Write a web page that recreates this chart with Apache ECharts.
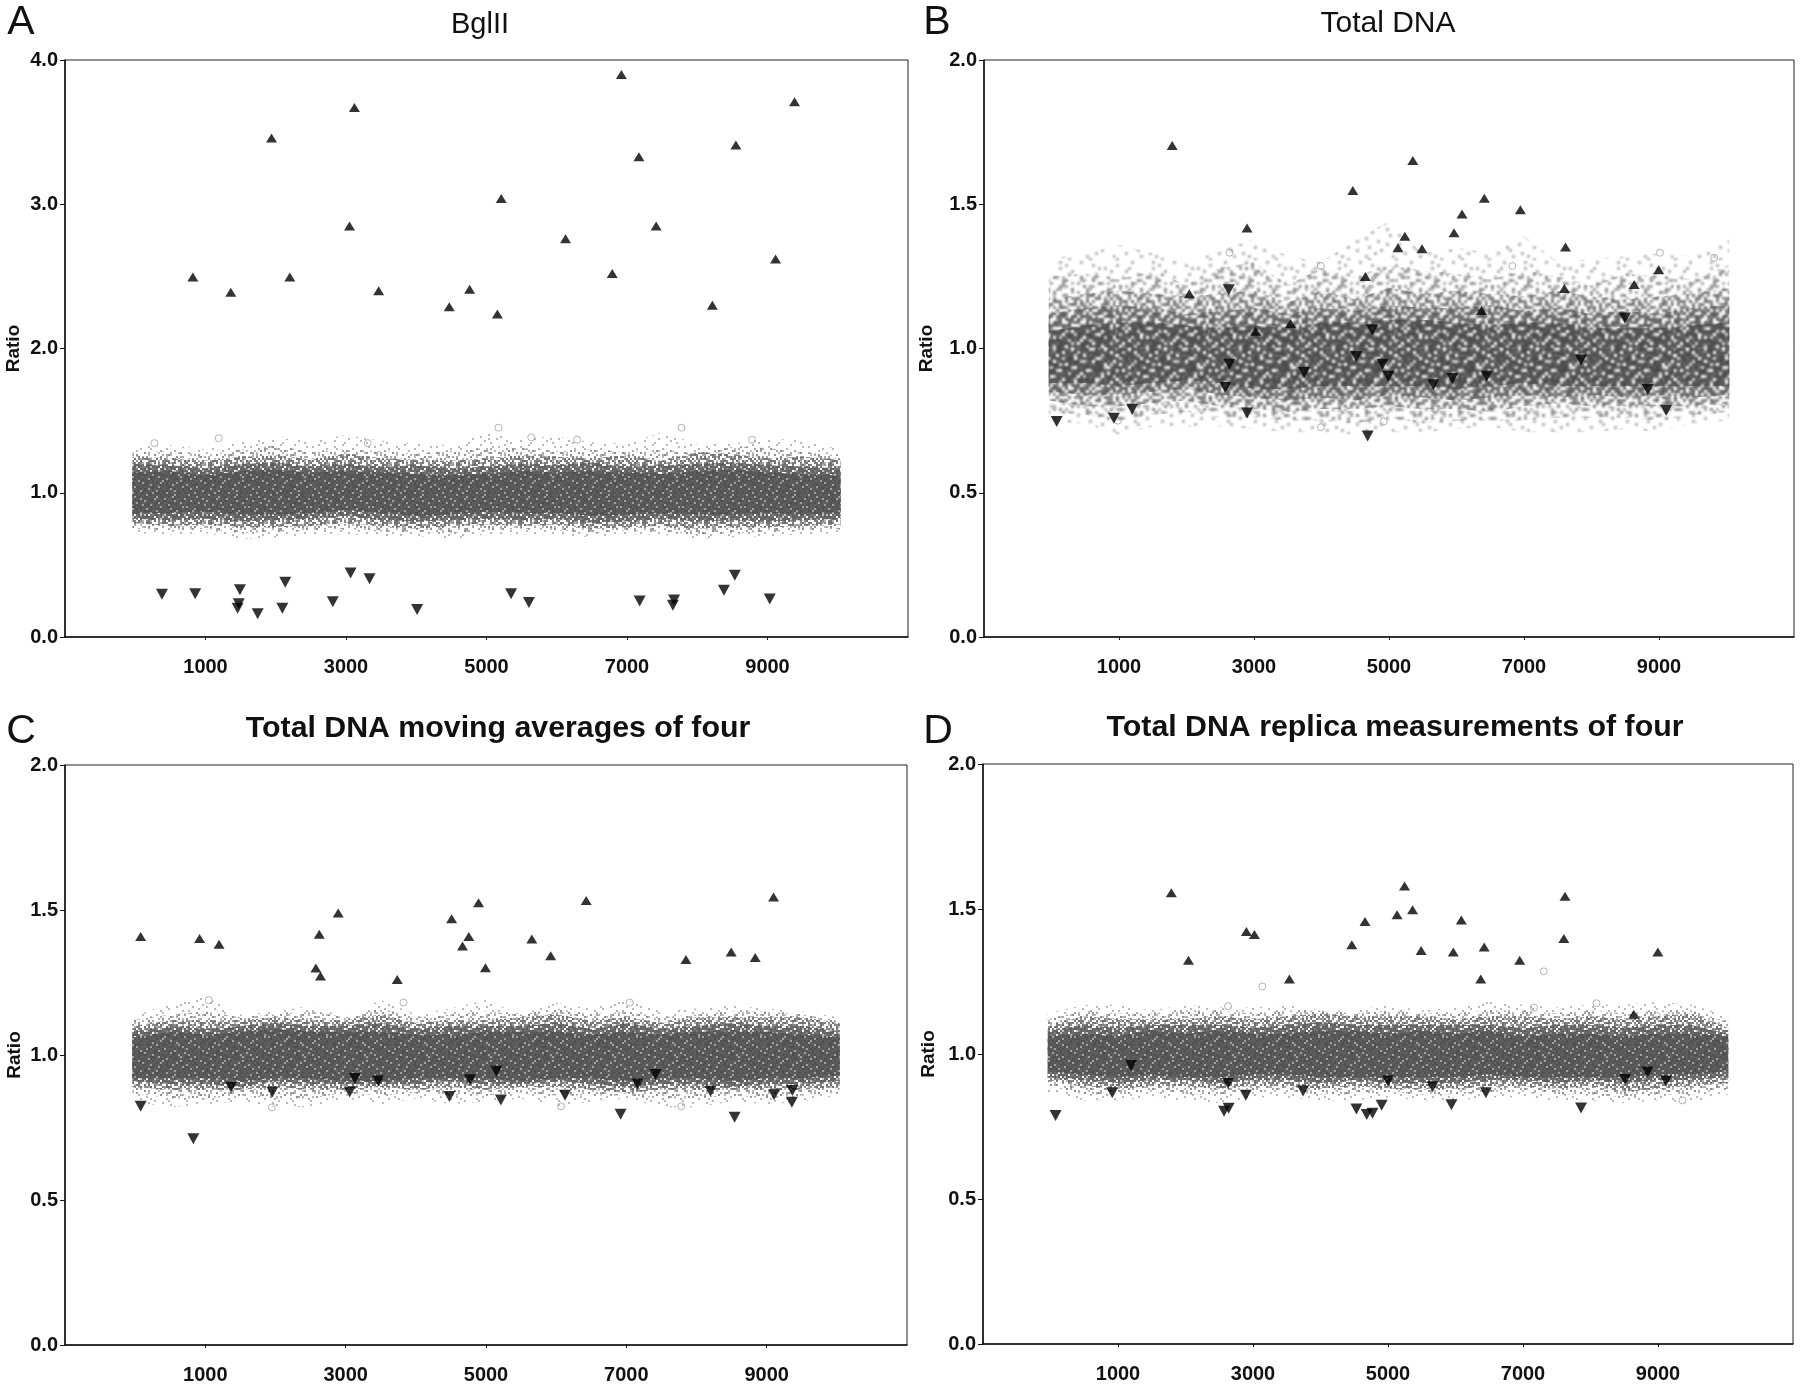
<!DOCTYPE html>
<html><head><meta charset="utf-8">
<style>html,body{margin:0;padding:0;background:#fff}#c{width:1800px;height:1386px}</style>
<script src="https://cdn.jsdelivr.net/npm/echarts@6/dist/echarts.min.js"></script>
</head><body><div id="c"></div>
<script>
const xTicks=[1000,3000,5000,7000,9000];
const stations=[-40,500,1000,1500,2000,2500,3000,3500,4000,4500,5000,5500,6000,6500,7000,7500,8000,8500,9000,9500,10040];

const aUpX=[820,1360,1940,2200,3050,3120,3465,4470,4760,5155,5210,6125,6790,6920,7170,7415,8215,8550,9115,9385];
const aUpY=[2.495,2.39,3.46,2.495,2.85,3.67,2.40,2.29,2.41,2.24,3.04,2.76,2.52,3.90,3.33,2.85,2.30,3.41,2.62,3.71];
const aDownX=[380,853,1490,1473,1457,1743,2094,2135,2812,3065,3335,4012,5350,5604,7180,7670,7653,8380,8535,9032];
const aDownY=[.297,.30,.328,.23,.20,.162,.20,.38,.245,.444,.404,.19,.30,.24,.25,.257,.22,.324,.428,.263];
const bUpX=[1788,2042,2897,3024,3541,4464,4650,5133,5235,5353,5489,5963,6082,6370,6412,6946,7598,7615,8632,8996];
const bUpY=[1.704,1.19,1.418,1.06,1.087,1.548,1.25,1.349,1.389,1.652,1.346,1.401,1.466,1.132,1.521,1.481,1.208,1.352,1.222,1.273];
const bDownX=[77,924,1195,2626,2635,2575,2897,3744,4515,4684,4752,4905,4989,5658,5938,6446,7843,8495,8834,9106];
const bDownY=[.747,.758,.789,1.204,.945,.865,.776,.917,.972,.697,1.064,.945,.904,.874,.896,.904,.96,1.106,.858,.786];
const cUpX=[78,918,1196,2575,2624,2641,2894,3735,4510,4665,4755,4894,4992,5653,5922,6428,7849,8494,8837,9098];
const cUpY=[1.409,1.402,1.382,1.30,1.416,1.272,1.49,1.26,1.47,1.376,1.409,1.525,1.301,1.40,1.342,1.533,1.329,1.355,1.336,1.545];
const cDownX=[78,829,1367,1955,3057,3131,3465,4478,4772,5147,5212,6126,6918,7163,7416,8200,8543,9106,9359,9367];
const cDownY=[.823,.711,.889,.872,.872,.919,.91,.857,.915,.944,.845,.861,.796,.90,.933,.875,.785,.863,.837,.878];
const dUpX=[1790,2044,2902,3021,3539,4464,4659,5134,5245,5364,5491,5967,6086,6374,6425,6951,7605,7622,8641,8998];
const dUpY=[1.556,1.323,1.422,1.412,1.259,1.377,1.457,1.48,1.579,1.497,1.357,1.352,1.462,1.259,1.369,1.323,1.398,1.544,1.137,1.352];
const dDownX=[75,915,1195,2571,2639,2630,2893,3742,4532,4685,4770,4906,5000,5660,5940,6450,7860,8514,8845,9118];
const dDownY=[.788,.866,.96,.803,.813,.898,.858,.872,.81,.791,.796,.823,.907,.887,.825,.866,.814,.912,.938,.907];

const aRingX=[5171,7775,1188,273,5637,6290,8780,3310];
const aRingY=[1.451,1.451,1.378,1.344,1.384,1.368,1.368,1.344];
const bRingX=[9817,9013,3990,6827,983,4922,5684,3990,2635];
const bRingY=[1.314,1.332,1.286,1.286,.750,.747,.789,.727,1.332];
const cRingX=[1049,7784,1947,6069,3824,7049];
const cRingY=[1.189,.823,.819,.823,1.181,1.181];
const dRingX=[3139,7308,7164,8089,8981,6646,9363,2630];
const dRingY=[1.233,1.285,1.16,1.175,1.131,.898,.84,1.165];

const aFringeHi=[1.32,1.33,1.30,1.36,1.38,1.36,1.40,1.36,1.34,1.33,1.43,1.38,1.39,1.35,1.34,1.42,1.34,1.34,1.38,1.36,1.30];
const aOuterHi=[1.28,1.29,1.26,1.30,1.33,1.28,1.30,1.29,1.27,1.29,1.31,1.31,1.29,1.30,1.28,1.30,1.27,1.32,1.31,1.28,1.26];
const aMidHi=[1.25,1.24,1.22,1.25,1.26,1.23,1.27,1.24,1.23,1.22,1.24,1.26,1.25,1.24,1.26,1.22,1.28,1.27,1.24,1.25,1.23];
const aInnerHi=[1.20,1.19,1.17,1.20,1.21,1.18,1.20,1.18,1.19,1.17,1.18,1.20,1.19,1.21,1.18,1.19,1.20,1.21,1.19,1.18,1.17];
const aCoreHi=[1.14,1.15,1.12,1.15,1.16,1.14,1.15,1.14,1.13,1.12,1.13,1.15,1.14,1.15,1.14,1.13,1.15,1.16,1.14,1.13,1.12];
const aCoreLo=[.86,.86,.87,.85,.85,.86,.88,.86,.84,.85,.87,.86,.86,.84,.85,.86,.85,.85,.86,.85,.86];
const aInnerLo=[.82,.81,.82,.80,.81,.82,.84,.81,.80,.81,.82,.81,.82,.79,.80,.82,.80,.81,.80,.81,.82];
const aMidLo=[.79,.77,.78,.76,.76,.77,.79,.77,.75,.77,.78,.77,.78,.75,.76,.77,.75,.76,.76,.77,.78];
const aOuterLo=[.75,.74,.75,.72,.73,.74,.75,.73,.73,.72,.74,.75,.74,.72,.74,.73,.71,.72,.73,.74,.75];
const aFringeLo=[.72,.71,.72,.68,.69,.71,.71,.70,.70,.68,.71,.71,.71,.69,.71,.71,.68,.69,.70,.71,.72];

const bFringeHi=[1.31,1.33,1.36,1.33,1.30,1.34,1.38,1.32,1.30,1.38,1.44,1.33,1.35,1.33,1.39,1.30,1.31,1.32,1.33,1.32,1.38];
const bOuterHi=[1.25,1.26,1.24,1.27,1.22,1.28,1.30,1.22,1.28,1.25,1.29,1.27,1.26,1.24,1.27,1.25,1.22,1.26,1.25,1.24,1.29];
const bMidHi=[1.17,1.19,1.20,1.19,1.18,1.19,1.20,1.16,1.20,1.17,1.21,1.19,1.20,1.19,1.18,1.20,1.18,1.17,1.18,1.19,1.21];
const bInnerHi=[1.12,1.14,1.15,1.14,1.12,1.13,1.14,1.12,1.14,1.13,1.15,1.14,1.14,1.15,1.13,1.14,1.12,1.13,1.12,1.14,1.15];
const bCoreHi=[1.06,1.08,1.09,1.09,1.08,1.07,1.08,1.07,1.09,1.09,1.10,1.10,1.09,1.08,1.09,1.09,1.07,1.07,1.07,1.08,1.09];
const bCoreLo=[.88,.88,.87,.88,.89,.88,.86,.86,.87,.87,.87,.87,.86,.87,.88,.87,.87,.87,.87,.87,.87];
const bInnerLo=[.85,.84,.84,.85,.86,.84,.83,.82,.83,.82,.84,.83,.82,.83,.84,.83,.84,.83,.84,.83,.84];
const bMidLo=[.82,.80,.80,.81,.82,.80,.79,.78,.79,.79,.80,.79,.79,.78,.80,.81,.80,.80,.80,.80,.81];
const bOuterLo=[.78,.77,.75,.77,.78,.76,.76,.75,.75,.74,.76,.74,.75,.75,.75,.76,.76,.76,.75,.77,.78];
const bFringeLo=[.74,.74,.70,.73,.73,.73,.72,.71,.71,.70,.71,.71,.72,.73,.71,.71,.71,.72,.71,.74,.75];

const cFringeHi=[1.13,1.18,1.20,1.14,1.15,1.17,1.13,1.19,1.14,1.16,1.19,1.14,1.18,1.16,1.19,1.15,1.16,1.17,1.16,1.15,1.13];
const cOuterHi=[1.12,1.14,1.15,1.13,1.14,1.15,1.13,1.16,1.13,1.14,1.15,1.14,1.16,1.14,1.15,1.13,1.14,1.15,1.15,1.14,1.12];
const cMidHi=[1.10,1.12,1.12,1.12,1.13,1.12,1.12,1.14,1.11,1.12,1.12,1.13,1.14,1.12,1.13,1.11,1.13,1.13,1.13,1.13,1.11];
const cInnerHi=[1.08,1.10,1.09,1.10,1.11,1.10,1.10,1.11,1.09,1.10,1.10,1.10,1.11,1.09,1.11,1.09,1.10,1.11,1.10,1.10,1.08];
const cCoreHi=[1.06,1.08,1.07,1.08,1.09,1.08,1.08,1.08,1.07,1.07,1.08,1.08,1.08,1.07,1.08,1.07,1.08,1.08,1.08,1.07,1.06];
const cCoreLo=[.92,.92,.92,.91,.92,.92,.91,.91,.92,.92,.92,.91,.92,.92,.91,.92,.92,.91,.92,.92,.93];
const cInnerLo=[.91,.90,.90,.89,.91,.90,.90,.90,.90,.91,.90,.90,.91,.90,.89,.90,.90,.89,.90,.90,.91];
const cMidLo=[.89,.88,.88,.88,.89,.88,.88,.89,.88,.89,.88,.89,.89,.88,.87,.88,.88,.88,.88,.88,.89];
const cOuterLo=[.87,.85,.85,.86,.85,.85,.87,.86,.87,.86,.86,.87,.86,.86,.86,.85,.85,.86,.85,.86,.87];
const cFringeLo=[.84,.82,.83,.84,.82,.82,.85,.83,.85,.83,.84,.85,.82,.84,.85,.82,.82,.84,.83,.84,.86];

const dFringeHi=[1.14,1.17,1.17,1.15,1.17,1.16,1.16,1.17,1.15,1.15,1.17,1.15,1.16,1.18,1.17,1.16,1.17,1.17,1.18,1.17,1.13];
const dOuterHi=[1.12,1.15,1.14,1.14,1.15,1.15,1.14,1.15,1.15,1.14,1.15,1.14,1.14,1.15,1.15,1.14,1.15,1.14,1.15,1.15,1.11];
const dMidHi=[1.10,1.13,1.12,1.12,1.12,1.13,1.12,1.13,1.14,1.13,1.13,1.13,1.12,1.13,1.13,1.12,1.13,1.12,1.13,1.14,1.09];
const dInnerHi=[1.08,1.10,1.09,1.10,1.10,1.10,1.09,1.10,1.11,1.10,1.10,1.10,1.10,1.10,1.09,1.10,1.10,1.09,1.10,1.10,1.07];
const dCoreHi=[1.06,1.07,1.06,1.08,1.07,1.08,1.07,1.07,1.08,1.08,1.07,1.08,1.07,1.08,1.06,1.07,1.07,1.06,1.07,1.07,1.06];
const dCoreLo=[.94,.93,.92,.93,.92,.92,.93,.93,.92,.92,.92,.92,.92,.93,.92,.92,.92,.92,.93,.93,.94];
const dInnerLo=[.92,.91,.90,.91,.91,.90,.91,.91,.90,.91,.90,.90,.90,.91,.91,.90,.91,.90,.91,.91,.92];
const dMidLo=[.91,.89,.88,.89,.89,.88,.89,.89,.88,.89,.88,.88,.88,.89,.89,.88,.89,.87,.88,.89,.90];
const dOuterLo=[.89,.86,.86,.87,.86,.86,.87,.87,.86,.86,.87,.86,.86,.87,.87,.86,.86,.85,.86,.86,.88];
const dFringeLo=[.87,.84,.84,.85,.84,.83,.85,.85,.84,.84,.85,.84,.84,.85,.85,.84,.84,.83,.84,.83,.86];

/* hand-typed grain, one digit per tile cell; a fill texture, not data */
const grain=[
"7125903364810275946013882759416",
"0483619257742906318575201646392",
"9216047835190374682193754080257",
"3850742196625841097436128975304",
"6172538014973260514887390162749",
"4907186352018793426052671349085",
"1364925078456102893714506238971",
"8295307641289054761369842015763",
"5041876932360718245906173584920",
"2738164509817346059281745693018",
"9650218473054962781430629807154",
"1847390625738105496273018546292",
"3096574218169427350865492173806",
"7512806394025738916041738962545",
"4283961750841693027159286450371",
"6905142837392056481723605914828",
"0738295164617482953068179340256",
"2461703895280319764592841067539",
"8197456023945167308214576983012",
"5326089147763824091675302418967",
"1074862359150972643881965237408",
"9648317205426051789340127856193",
"3285940716897364120567493012685",
"7019563824031287956428716395044",
"4856120397665930482171058942376",
"2367485091918472360795243608119",
"8540917263302658174936870125467",
"6192374805574013869220395471680",
"0975238146821690735418063297254"];
function tile(cols,s,blur){
  const h=grain.length,w=grain[0].length,base=document.createElement('canvas');
  base.width=w*s;base.height=h*s;
  const g=base.getContext('2d');
  g.fillStyle='#fff';g.fillRect(0,0,w*s,h*s);
  grain.forEach((row,y)=>{[...row].forEach((d,x)=>{
    g.fillStyle=cols[+d];g.fillRect(x*s,y*s,s,s);});});
  const cv=document.createElement('canvas');cv.width=base.width;cv.height=base.height;
  const t=cv.getContext('2d');t.filter='blur('+blur+'px)';
  for(let dx=-1;dx<=1;dx++)for(let dy=-1;dy<=1;dy++)t.drawImage(base,dx*base.width,dy*base.height);
  return {image:cv,repeat:'repeat'};
}
const W='#ffffff';
const tight={cell:2,blur:.6,
  fringe:['#b8b8b8',W,W,W,W,W,W,W,W,W],
  outer:['#8e8e8e','#a8a8a8',W,W,W,'#b8b8b8',W,W,W,W],
  mid:['#707070','#707070','#808080','#808080','#909090',W,'#b0b0b0',W,W,W],
  inner:['#5e5e5e','#5e5e5e','#646464','#646464','#6a6a6a','#6a6a6a','#707070','#808080',W,'#c0c0c0'],
  core:['#505050','#505050','#565656','#565656','#5a5a5a','#5a5a5a','#5a5a5a','#606060','#606060','#a0a0a0']};
const loose={cell:3,blur:1,
  fringe:['#b0b0b0',W,W,W,W,W,W,W,W,W],
  outer:['#888888','#a4a4a4',W,W,W,W,W,'#b4b4b4',W,W],
  mid:['#6c6c6c','#787878','#787878','#909090',W,'#909090',W,W,W,W],
  inner:['#5a5a5a','#5a5a5a','#646464','#646464','#707070','#707070','#909090',W,W,W],
  core:['#4a4a4a','#4a4a4a','#4a4a4a','#525252','#525252','#5c5c5c','#5c5c5c','#6c6c6c','#d0d0d0',W]};

const panels=[
 {g:{left:65,right:892,top:60,bottom:749},max:4,step:1,gap:42,up:[aUpX,aUpY],down:[aDownX,aDownY],ring:[aRingX,aRingY],look:tight,
  bands:[[aFringeLo,aFringeHi],[aOuterLo,aOuterHi],[aMidLo,aMidHi],[aInnerLo,aInnerHi],[aCoreLo,aCoreHi]]},
 {g:{left:984,right:6,top:60,bottom:749},max:2,step:.5,gap:48,up:[bUpX,bUpY],down:[bDownX,bDownY],ring:[bRingX,bRingY],look:loose,
  bands:[[bFringeLo,bFringeHi],[bOuterLo,bOuterHi],[bMidLo,bMidHi],[bInnerLo,bInnerHi],[bCoreLo,bCoreHi]]},
 {g:{left:65,right:893,top:765,bottom:41},max:2,step:.5,gap:41,up:[cUpX,cUpY],down:[cDownX,cDownY],ring:[cRingX,cRingY],look:tight,
  bands:[[cFringeLo,cFringeHi],[cOuterLo,cOuterHi],[cMidLo,cMidHi],[cInnerLo,cInnerHi],[cCoreLo,cCoreHi]]},
 {g:{left:983,right:7,top:764,bottom:42},max:2,step:.5,gap:45,up:[dUpX,dUpY],down:[dDownX,dDownY],ring:[dRingX,dRingY],look:tight,
  bands:[[dFringeLo,dFringeHi],[dOuterLo,dOuterHi],[dMidLo,dMidHi],[dInnerLo,dInnerHi],[dCoreLo,dCoreHi]]}
];

const FONT='"Liberation Sans",Arial,sans-serif';
const grid=[],xAxis=[],yAxis=[],series=[];
panels.forEach((p,i)=>{
  grid.push(Object.assign({show:true,borderColor:'#222',borderWidth:1,backgroundColor:'#fff'},p.g));
  xAxis.push({type:'value',gridIndex:i,min:-1000,max:11000,splitLine:{show:false},
    axisLine:{show:true,onZero:false,lineStyle:{color:'#111',width:1.5}},
    axisTick:{show:true,length:3,inside:false,customValues:xTicks,lineStyle:{color:'#111'}},
    axisLabel:{show:true,customValues:xTicks,margin:20,color:'#111',fontFamily:FONT,fontSize:20,fontWeight:'bold',formatter:v=>String(v)}});
  yAxis.push({type:'value',gridIndex:i,min:0,max:p.max,interval:p.step,splitLine:{show:false},
    name:'Ratio',nameLocation:'middle',nameRotate:90,nameGap:p.gap,
    nameTextStyle:{color:'#111',fontFamily:FONT,fontSize:19,fontWeight:'bold'},
    axisLine:{show:true,onZero:false,lineStyle:{color:'#111',width:1.5}},
    axisTick:{show:true,length:5,lineStyle:{color:'#111'}},
    axisLabel:{margin:7,color:'#111',fontFamily:FONT,fontSize:20,fontWeight:'bold',formatter:v=>v.toFixed(1)}});
  ['fringe','outer','mid','inner','core'].forEach((name,b)=>{
    const [lo,hi]=p.bands[b];
    const fill=tile(p.look[name],p.look.cell,p.look.blur);
    series.push({type:'custom',name:name,xAxisIndex:i,yAxisIndex:i,silent:true,z:2+b,clip:true,
      encode:{x:0,y:[1,2]},
      data:stations.map((x,k)=>[x,lo[k],hi[k]]),
      renderItem:(params,api)=>{
        if(params.dataIndex!==0) return null;
        const pts=[];
        stations.forEach((x,k)=>pts.push(api.coord([x,hi[k]])));
        for(let k=stations.length-1;k>=0;k--) pts.push(api.coord([stations[k],lo[k]]));
        return {type:'polygon',shape:{points:pts},style:{fill:fill,stroke:null}};
      }});
  });
  series.push({type:'scatter',name:'ring',xAxisIndex:i,yAxisIndex:i,z:8,silent:true,symbol:'circle',symbolSize:7,
    itemStyle:{color:'rgba(255,255,255,0)',borderColor:'#a0a0a0',borderWidth:1},data:p.ring[0].map((x,k)=>[x,p.ring[1][k]])});
  series.push({type:'scatter',name:'up',xAxisIndex:i,yAxisIndex:i,z:10,silent:true,symbol:'triangle',symbolSize:[11,9],
    itemStyle:{color:'#000'},data:p.up[0].map((x,k)=>[x,p.up[1][k]])});
  series.push({type:'scatter',name:'down',xAxisIndex:i,yAxisIndex:i,z:10,silent:true,symbol:'triangle',symbolRotate:180,symbolSize:[12,11],
    itemStyle:{color:'#000'},data:p.down[0].map((x,k)=>[x,p.down[1][k]])});
});
const ttl=(text,x,y,size,weight)=>({text,left:x,top:y,textAlign:'center',textVerticalAlign:'middle',padding:0,
  textStyle:{color:'#111',fontFamily:FONT,fontSize:size,fontWeight:weight}});
const title=[
  ttl('BglII',480,25,29,'normal'),ttl('Total DNA',1388,24,30,'normal'),
  ttl('Total DNA moving averages of four',498,729,30.3,'bold'),ttl('Total DNA replica measurements of four',1395,728,30.3,'bold'),
  ttl('A',21,23,41,'normal'),ttl('B',937,23,41,'normal'),ttl('C',21,732,41,'normal'),ttl('D',938,732,41,'normal')
];
const chart=echarts.init(document.getElementById('c'),null,{renderer:'canvas',devicePixelRatio:1});
chart.setOption({animation:false,backgroundColor:'#fff',title,grid,xAxis,yAxis,series,tooltip:{show:false}});
</script></body></html>
